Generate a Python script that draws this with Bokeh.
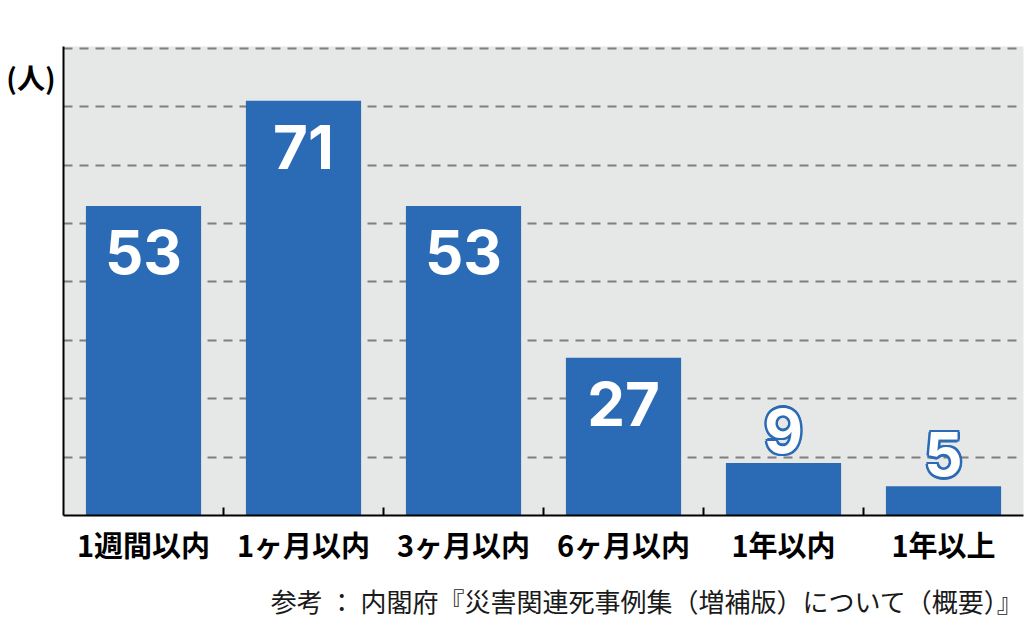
from bokeh.plotting import figure
from bokeh.models import ColumnDataSource, FixedTicker, Range1d, Title
from bokeh.core.properties import value
from bokeh.embed import file_html
from bokeh.resources import INLINE

categories = ["1週間以内", "1ヶ月以内", "3ヶ月以内", "6ヶ月以内", "1年以内", "1年以上"]
counts = [53, 71, 53, 27, 9, 5]
y_ticks = [0, 10, 20, 30, 40, 50, 60, 70, 80]
unit_label = "(人)"
unit_label_pos = 75
source_note = "参考 ： 内閣府『災害関連死事例集（増補版）について（概要）』"

BLUE = "#2b6bb5"
JP = "Noto Sans CJK JP"
NUMFONT = "Inter"

xs = [i + 0.5 for i in range(len(categories))]
inside = [c >= 20 for c in counts]

src_in = ColumnDataSource(dict(x=[x for x, f in zip(xs, inside) if f],
                               y=[c for c, f in zip(counts, inside) if f],
                               t=[str(c) for c, f in zip(counts, inside) if f]))
src_out = ColumnDataSource(dict(x=[x for x, f in zip(xs, inside) if not f],
                                y=[c for c, f in zip(counts, inside) if not f],
                                t=[str(c) for c, f in zip(counts, inside) if not f]))

p = figure(output_backend="svg", toolbar_location=None,
           frame_width=960, frame_height=469,
           min_border_left=63, min_border_right=1, min_border_top=46, min_border_bottom=106,
           x_range=Range1d(0, len(categories)), y_range=Range1d(0, 80.3))
p.background_fill_color = "#e6e7e7"
p.border_fill_color = "white"
p.outline_line_color = None

p.vbar(x=xs, top=counts, width=0.72, fill_color=BLUE, line_color=None)

p.text(x="x", y="y", text="t", source=src_in, text_color="white",
       text_font=value(NUMFONT), text_font_style="bold", text_font_size="60px",
       text_align="center", text_baseline="alphabetic", y_offset=46)

# outlined labels above short bars: blue halo then white text
OUT_OFF = -32
for dx, dy in [(-2.5, 0), (2.5, 0), (0, -2.5), (0, 2.5), (-1.8, -1.8), (1.8, -1.8), (-1.8, 1.8), (1.8, 1.8)]:
    p.text(x="x", y="y", text="t", source=src_out, text_color=BLUE,
           text_font=value(NUMFONT), text_font_style="bold", text_font_size="60px",
           text_align="center", text_baseline="alphabetic",
           x_offset=dx, y_offset=OUT_OFF + dy)
p.text(x="x", y="y", text="t", source=src_out, text_color="white",
       text_font=value(NUMFONT), text_font_style="bold", text_font_size="60px",
       text_align="center", text_baseline="alphabetic", y_offset=OUT_OFF)

# grid
p.xgrid.grid_line_color = None
p.ygrid.ticker = FixedTicker(ticks=y_ticks)
p.ygrid.grid_line_color = "#7f7f7f"
p.ygrid.grid_line_width = 2
p.ygrid.grid_line_dash = "9 7"

# y axis: only the unit label as a tick label
p.yaxis.ticker = FixedTicker(ticks=[unit_label_pos])
p.yaxis.major_label_overrides = {unit_label_pos: unit_label}
p.yaxis.axis_line_color = "black"
p.yaxis.axis_line_width = 2
p.yaxis.major_tick_line_color = None
p.yaxis.minor_tick_line_color = None
p.yaxis.major_label_text_font = JP
p.yaxis.major_label_text_font_size = "28px"
p.yaxis.major_label_text_font_style = "bold"
p.yaxis.major_label_text_color = "black"
p.yaxis.major_label_standoff = 2

# x axis
p.xaxis.ticker = FixedTicker(ticks=xs, minor_ticks=[i for i in range(1, len(categories))])
p.xaxis.major_label_overrides = {x: c for x, c in zip(xs, categories)}
p.xaxis.axis_line_color = "black"
p.xaxis.axis_line_width = 2
p.xaxis.major_tick_line_color = None
p.xaxis.minor_tick_line_color = "black"
p.xaxis.minor_tick_line_width = 2
p.xaxis.minor_tick_in = 8
p.xaxis.minor_tick_out = 0
p.xaxis.major_label_text_font = JP
p.xaxis.major_label_text_font_style = "bold"
p.xaxis.major_label_text_font_size = "29px"
p.xaxis.major_label_text_color = "black"
p.xaxis.major_label_standoff = 1

p.add_layout(Title(text=source_note, align="right", text_font=JP, text_font_size="26px",
                   text_font_style="normal", text_color="#1a1a1a", offset=0,
                   standoff=24), "below")

open("out.html", "w").write(file_html(p, INLINE))
